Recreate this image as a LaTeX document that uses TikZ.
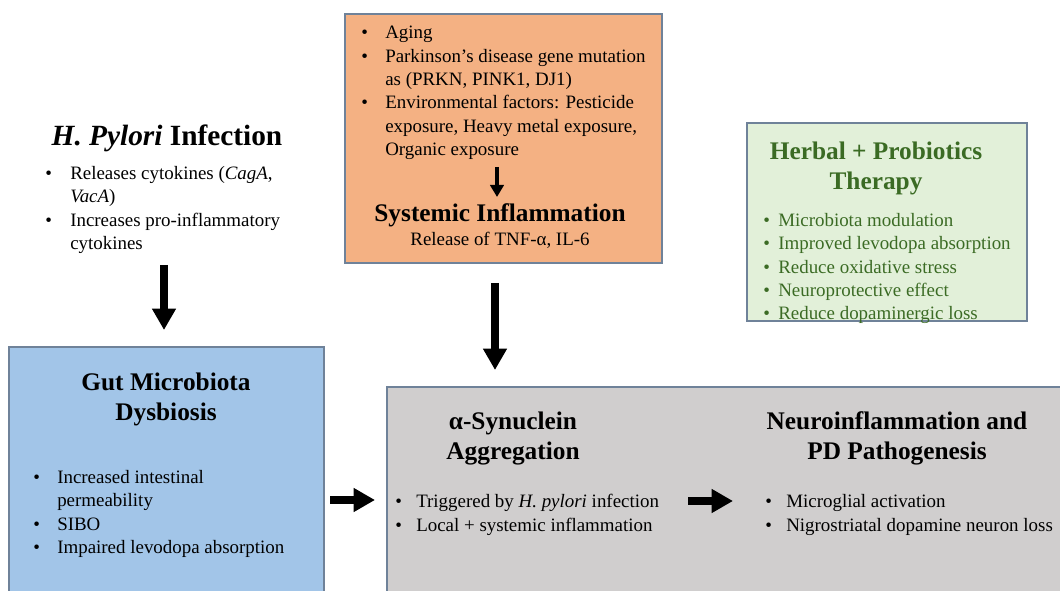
\documentclass[tikz,border=0pt]{standalone}
\usepackage{fontspec}
\setmainfont{Liberation Serif}
\usepackage{tikz}
\usetikzlibrary{arrows.meta}
\usetikzlibrary{calc}

\definecolor{riskfill}{HTML}{F4B183}
\definecolor{herbfill}{HTML}{E2F0D9}
\definecolor{herbtext}{HTML}{3B6B24}
\definecolor{gutfill}{HTML}{A2C5E8}
\definecolor{pdfill}{HTML}{D0CECE}
\definecolor{boxline}{HTML}{6F8299}

\newlength\bulw
\newcommand\bul{\makebox[\bulw][l]{\textbullet}}
\newcommand\ind{\hspace*{\bulw}}

\tikzset{
	panel/.style={draw=boxline,line width=0.8pt},
	head/.style={inner sep=0pt,align=center,font=\fontsize{19}{22.5}\selectfont\bfseries},
	blist/.style={inner sep=0pt,align=left,anchor=west,font=\fontsize{14.2}{17.5}\selectfont},
	bulw/.code={\global\bulw=#1},
	bigarrow/.style={line width=5.5pt,-{Triangle[width=17pt,length=16pt]}},
	smallarrow/.style={line width=3pt,-{Triangle[width=10pt,length=9pt]}}
}

\begin{document}
\begin{tikzpicture}[x=0.75pt,y=-0.75pt]
	\clip (0,0) rectangle (1060,591);
	\fill[white] (0,0) rectangle (1060,591);

	% boxes
	\draw[panel,fill=riskfill] (345,14) rectangle (662,263);
	\draw[panel,fill=herbfill] (747,123) rectangle (1027,321);
	\draw[panel,fill=gutfill] (9,347) rectangle (324,600);
	\draw[panel,fill=pdfill] (387,387) rectangle (1070,600);

	% H. pylori
	\node[head,font=\fontsize{22}{26}\selectfont\bfseries] (hptitle) at (167,138) {\textit{H. Pylori} Infection};
	\node[blist,bulw=18.75pt] (hplist) at (45,210) {%
		\bul Releases cytokines (\textit{CagA},\\
		\ind\textit{VacA})\\
		\bul Increases pro-inflammatory\\
		\ind cytokines};

	% risk factors
	\node[blist,bulw=18pt] (risklist) at (361,93) {%
		\bul Aging\\
		\bul Parkinson's disease gene mutation\\
		\ind as (PRKN, PINK1, DJ1)\\
		\bul Environmental factors: Pesticide\\
		\ind exposure, Heavy metal exposure,\\
		\ind Organic exposure};
	\node[head] (systitle) at (500,215) {Systemic Inflammation};
	\node[inner sep=0pt,font=\fontsize{14.2}{17.5}\selectfont] (systext) at (500,240) {Release of TNF-α, IL-6};

	% therapy
	\node[head,text=herbtext] (herbtitle) at (876,168) {Herbal + Probiotics\\Therapy};
	\node[blist,text=herbtext,bulw=11.25pt] (herblist) at (763,268.5) {%
		\bul Microbiota modulation\\
		\bul Improved levodopa absorption\\
		\bul Reduce oxidative stress\\
		\bul Neuroprotective effect\\
		\bul Reduce dopaminergic loss};

	% gut
	\node[head] (guttitle) at (166,399) {Gut Microbiota\\Dysbiosis};
	\node[blist,bulw=18pt] (gutlist) at (33,514) {%
		\bul Increased intestinal\\
		\ind permeability\\
		\bul SIBO\\
		\bul Impaired levodopa absorption};

	% alpha-synuclein and PD
	\node[head] (syntitle) at (513,438.5) {α-Synuclein\\Aggregation};
	\node[blist,bulw=15.75pt] (synlist) at (395,515) {%
		\bul Triggered by \textit{H. pylori} infection\\
		\bul Local + systemic inflammation};
	\node[head] (pdtitle) at (897,438.5) {Neuroinflammation and\\PD Pathogenesis};
	\node[blist,bulw=15.75pt] (pdlist) at (765,515) {%
		\bul Microglial activation\\
		\bul Nigrostriatal dopamine neuron loss};

	% arrows
	\coordinate (hpout) at (164,265);
	\coordinate (gutin) at (164,330);
	\coordinate (riskout) at (497,167);
	\coordinate (sysin) at (497,197);
	\coordinate (sysout) at (495,283);
	\coordinate (pdin) at (495,370);
	\coordinate (gutout) at (330,500);
	\coordinate (synin) at (375,500);
	\coordinate (synout) at (688,501);
	\coordinate (neuroin) at (733,501);
	\draw[bigarrow] (hpout) -- (gutin);
	\draw[bigarrow] (sysout) -- (pdin);
	\draw[bigarrow] (gutout) -- (synin);
	\draw[bigarrow] (synout) -- (neuroin);
	\draw[smallarrow] (riskout) -- (sysin);
%	\draw[bigarrow] (hplist) -- (guttitle);
\end{tikzpicture}
\end{document}
